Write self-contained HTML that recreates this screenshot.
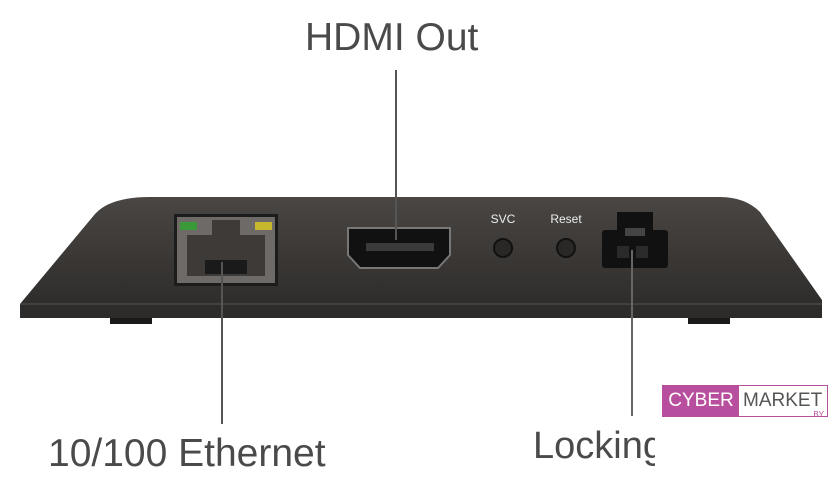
<!DOCTYPE html>
<html><head><style>
body{margin:0;width:840px;height:490px;background:#fff;overflow:hidden;position:relative;font-family:"Liberation Sans",sans-serif}
.t{position:absolute;color:#4a4a4a;font-size:38px;white-space:nowrap}
</style></head><body>
<svg width="840" height="490" style="position:absolute;left:0;top:0">
<defs>
<linearGradient id="b" x1="0" y1="0" x2="0" y2="1">
<stop offset="0" stop-color="#4a4644"/><stop offset="0.5" stop-color="#3a3735"/><stop offset="1" stop-color="#2c2a29"/>
</linearGradient>
</defs>
<rect x="110" y="312" width="42" height="12" fill="#1a1a1a"/>
<rect x="688" y="312" width="42" height="12" fill="#1a1a1a"/>
<path d="M150 197 L720 197 Q745 197 760 212 L822 300 L822 318 L20 318 L20 304 L95 214 Q110 197 150 197Z" fill="url(#b)"/>
<rect x="20" y="304" width="802" height="14" fill="#2e2c2b"/>
<line x1="20" y1="304" x2="822" y2="304" stroke="#555" stroke-width="1"/>
<rect x="174" y="214" width="104" height="72" fill="#1c1c1c"/>
<rect x="177" y="217" width="98" height="66" fill="#6e6a68"/>
<rect x="180" y="222" width="17" height="8" fill="#3a9a3a"/>
<rect x="255" y="222" width="17" height="8" fill="#c8b830"/>
<path d="M187 235 L212 235 L212 220 L240 220 L240 235 L265 235 L265 276 L187 276Z" fill="#3e3a38"/>
<rect x="205" y="260" width="42" height="14" fill="#1a1a1a"/>
<path d="M348 228 L450 228 L450 255 L438 268 L360 268 L348 255Z" fill="#111" stroke="#777" stroke-width="2"/>
<rect x="366" y="243" width="68" height="8" fill="#3a3a3a"/>
<circle cx="503" cy="248" r="9" fill="#2a2826" stroke="#111" stroke-width="2"/>
<circle cx="566" cy="248" r="9" fill="#2a2826" stroke="#111" stroke-width="2"/>
<text x="503" y="223" font-size="12" fill="#eee" text-anchor="middle" font-family="Liberation Sans">SVC</text>
<text x="566" y="223" font-size="12" fill="#eee" text-anchor="middle" font-family="Liberation Sans">Reset</text>
<rect x="617" y="212" width="36" height="20" fill="#111"/>
<rect x="602" y="230" width="66" height="38" rx="3" fill="#111"/>
<rect x="625" y="228" width="20" height="8" fill="#444"/>
<rect x="617" y="246" width="12" height="12" fill="#2a2a2a"/>
<rect x="636" y="246" width="12" height="12" fill="#2a2a2a"/>
<line x1="396" y1="70" x2="396" y2="240" stroke="#555" stroke-width="2"/>
<line x1="222" y1="262" x2="222" y2="424" stroke="#555" stroke-width="2"/>
<line x1="632" y1="250" x2="632" y2="416" stroke="#666" stroke-width="2"/>
</svg>
<div class="t" style="left:305px;top:16px;font-size:39px">HDMI Out</div>
<div class="t" style="left:48px;top:432px;font-size:39px">10/100 Ethernet</div>
<div class="t" style="left:533px;top:425px;width:122px;overflow:hidden">Locking</div>
<div style="position:absolute;left:662px;top:385px;width:166px;height:32px;border:1px solid #b84e9e;box-sizing:border-box;background:#fff">
<div style="position:absolute;left:0;top:0;width:76px;height:30px;background:#b84e9e;color:#fff;font-size:19px;line-height:30px;text-align:center">CYBER</div>
<div style="position:absolute;left:80px;top:0;color:#555;font-size:19px;line-height:30px">MARKET</div>
<div style="position:absolute;right:3px;bottom:-3px;color:#b84e9e;font-size:8px">.BY</div>
</div>
</body></html>
